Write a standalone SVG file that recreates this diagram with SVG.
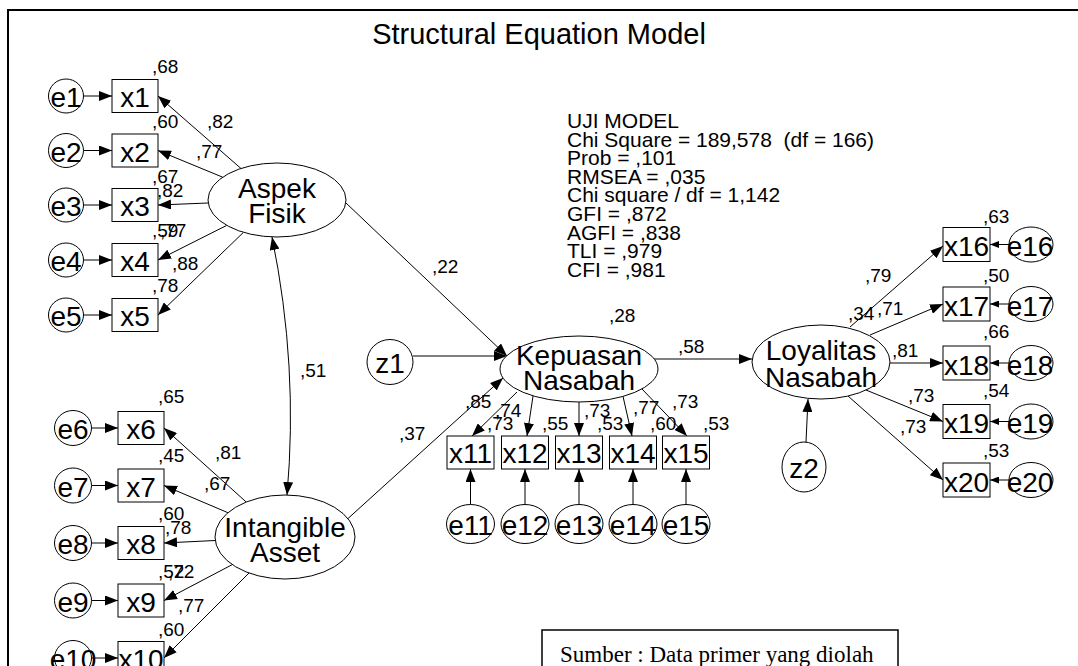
<svg xmlns="http://www.w3.org/2000/svg" width="1078" height="666" viewBox="0 0 1078 666">
<defs>
<style>
.n{fill:#fff;stroke:#000;stroke-width:1}
.t{font-family:"Liberation Sans",Arial,sans-serif;font-size:28px;text-anchor:middle;fill:#000}
.l{font-family:"Liberation Sans",Arial,sans-serif;font-size:19px;fill:#000}
.u{font-family:"Liberation Sans",Arial,sans-serif;font-size:21px;fill:#000}
#conn line,#conn path{stroke:#000;stroke-width:1;fill:none;marker-end:url(#ah)}
#conn .s{marker-end:url(#as)}
</style>
<marker id="ah" viewBox="0 0 13 10" refX="13" refY="5" markerWidth="13" markerHeight="10" markerUnits="userSpaceOnUse" orient="auto-start-reverse"><path d="M0,0 L13,5 L0,10 z" fill="#000"/></marker>
<marker id="as" viewBox="0 0 9 7" refX="9" refY="3.5" markerWidth="9" markerHeight="7" markerUnits="userSpaceOnUse" orient="auto"><path d="M0,0 L9,3.5 L0,7 z" fill="#000"/></marker>
</defs>
<rect width="1078" height="666" fill="#fff"/>
<path d="M8,666 V10 H1078" stroke="#000" stroke-width="2" fill="none"/>
<text class="t" x="539" y="44" style="font-size:29px">Structural Equation Model</text>

<g id="conn">
<line x1="83.5" y1="96" x2="112" y2="96"/>
<line x1="83.5" y1="150.5" x2="112" y2="150.5"/>
<line x1="83.5" y1="205" x2="112" y2="205"/>
<line x1="83.5" y1="260" x2="112" y2="260"/>
<line x1="83.5" y1="315" x2="112" y2="315"/>
<line x1="241" y1="168.5" x2="158" y2="96"/>
<line x1="222.7" y1="177.2" x2="158" y2="150.5"/>
<line x1="208" y1="203" x2="158" y2="205"/>
<line x1="226.7" y1="225.4" x2="158" y2="260"/>
<line x1="243.5" y1="232.3" x2="158" y2="315"/>
<line x1="91.5" y1="428" x2="118" y2="428"/>
<line x1="91.5" y1="485.5" x2="118" y2="485.5"/>
<line x1="91.5" y1="543" x2="118" y2="543"/>
<line x1="91.5" y1="600.5" x2="118" y2="600.5"/>
<line x1="91.5" y1="658" x2="118" y2="658"/>
<line x1="246.2" y1="502" x2="164" y2="428"/>
<line x1="227.9" y1="512.7" x2="164" y2="485.5"/>
<line x1="215.1" y1="540.5" x2="164" y2="543"/>
<line x1="232.3" y1="564.6" x2="164" y2="600.5"/>
<line x1="249" y1="573" x2="164" y2="658"/>
<path d="M272,237 Q298.5,366 287,495" style="marker-start:url(#ah)"/>
<line x1="346" y1="203" x2="507" y2="356"/>
<line x1="348" y1="518.5" x2="503" y2="378"/>
<line x1="413" y1="356" x2="507" y2="356"/>
<line x1="654" y1="359" x2="752" y2="359"/>
<line x1="806" y1="442" x2="808" y2="399"/>
<line x1="517" y1="392" x2="472" y2="436"/>
<line x1="533" y1="396" x2="527" y2="436"/>
<line x1="579" y1="402" x2="579" y2="436"/>
<line x1="623" y1="396.4" x2="632" y2="436"/>
<line x1="642" y1="389" x2="687" y2="436"/>
<line x1="470.5" y1="504.5" x2="470.5" y2="469"/>
<line x1="525" y1="504.5" x2="525" y2="469"/>
<line x1="579" y1="504.5" x2="579" y2="469"/>
<line x1="633" y1="504.5" x2="633" y2="469"/>
<line x1="686" y1="504.5" x2="686" y2="469"/>
<line x1="850" y1="327" x2="943" y2="246"/>
<line x1="870" y1="335" x2="943" y2="304"/>
<line x1="890" y1="363" x2="943" y2="363"/>
<line x1="866" y1="390" x2="943" y2="421.5"/>
<line x1="848" y1="396" x2="943" y2="480"/>
<line class="s" x1="1009" y1="244.5" x2="990" y2="244.5"/>
<line class="s" x1="1009" y1="304" x2="990" y2="304"/>
<line class="s" x1="1009" y1="363" x2="990" y2="363"/>
<line class="s" x1="1009" y1="421.5" x2="990" y2="421.5"/>
<line class="s" x1="1009" y1="480" x2="990" y2="480"/>
</g>

<g id="aspek"><ellipse class="n" cx="277" cy="200" rx="69" ry="37"/><text class="t" x="277" y="198">Aspek</text><text class="t" x="277" y="223">Fisik</text></g>
<g id="intangible"><ellipse class="n" cx="285" cy="537" rx="70" ry="42"/><text class="t" x="285" y="537">Intangible</text><text class="t" x="285" y="562">Asset</text></g>
<g id="kepuasan"><ellipse class="n" cx="579" cy="369" rx="79" ry="33"/><text class="t" x="579" y="365">Kepuasan</text><text class="t" x="579" y="390">Nasabah</text></g>
<g id="loyalitas"><ellipse class="n" cx="821" cy="362" rx="69" ry="37"/><text class="t" x="821" y="360">Loyalitas</text><text class="t" x="821" y="387">Nasabah</text></g>
<g id="z1"><ellipse class="n" cx="390" cy="362" rx="23" ry="22.5"/><text class="t" x="390" y="373">z1</text></g>
<g id="z2"><ellipse class="n" cx="804" cy="467" rx="22" ry="25"/><text class="t" x="804" y="478">z2</text></g>

<g id="e1"><ellipse class="n" cx="66" cy="96" rx="17.5" ry="17"/><text class="t" x="66" y="107">e1</text></g>
<g id="x1"><rect class="n" x="112" y="79.5" width="46" height="33"/><text class="t" x="135" y="107">x1</text></g>
<g id="e2"><ellipse class="n" cx="66" cy="150.5" rx="17.5" ry="17"/><text class="t" x="66" y="161.5">e2</text></g>
<g id="x2"><rect class="n" x="112" y="134" width="46" height="33"/><text class="t" x="135" y="161.5">x2</text></g>
<g id="e3"><ellipse class="n" cx="66" cy="205" rx="17.5" ry="17"/><text class="t" x="66" y="216">e3</text></g>
<g id="x3"><rect class="n" x="112" y="188.5" width="46" height="33"/><text class="t" x="135" y="216">x3</text></g>
<g id="e4"><ellipse class="n" cx="66" cy="260" rx="17.5" ry="17"/><text class="t" x="66" y="271">e4</text></g>
<g id="x4"><rect class="n" x="112" y="243.5" width="46" height="33"/><text class="t" x="135" y="271">x4</text></g>
<g id="e5"><ellipse class="n" cx="66" cy="315" rx="17.5" ry="17"/><text class="t" x="66" y="326">e5</text></g>
<g id="x5"><rect class="n" x="112" y="298.5" width="46" height="33"/><text class="t" x="135" y="326">x5</text></g>

<g id="e6"><ellipse class="n" cx="73" cy="428" rx="18.5" ry="17.5"/><text class="t" x="73" y="439">e6</text></g>
<g id="x6"><rect class="n" x="118" y="411.5" width="46" height="33"/><text class="t" x="141" y="439">x6</text></g>
<g id="e7"><ellipse class="n" cx="73" cy="485.5" rx="18.5" ry="17.5"/><text class="t" x="73" y="496.5">e7</text></g>
<g id="x7"><rect class="n" x="118" y="469" width="46" height="33"/><text class="t" x="141" y="496.5">x7</text></g>
<g id="e8"><ellipse class="n" cx="73" cy="543" rx="18.5" ry="17.5"/><text class="t" x="73" y="554">e8</text></g>
<g id="x8"><rect class="n" x="118" y="526.5" width="46" height="33"/><text class="t" x="141" y="554">x8</text></g>
<g id="e9"><ellipse class="n" cx="73" cy="600.5" rx="18.5" ry="17.5"/><text class="t" x="73" y="611.5">e9</text></g>
<g id="x9"><rect class="n" x="118" y="584" width="46" height="33"/><text class="t" x="141" y="611.5">x9</text></g>
<g id="e10"><ellipse class="n" cx="73" cy="658" rx="18.5" ry="17.5"/><text class="t" x="73" y="669">e10</text></g>
<g id="x10"><rect class="n" x="118" y="641.5" width="46" height="33"/><text class="t" x="141" y="669">x10</text></g>

<g id="x11"><rect class="n" x="447" y="436" width="47" height="33"/><text class="t" x="470.5" y="463">x11</text></g>
<g id="x12"><rect class="n" x="501.5" y="436" width="47" height="33"/><text class="t" x="525" y="463">x12</text></g>
<g id="x13"><rect class="n" x="555.5" y="436" width="47" height="33"/><text class="t" x="579" y="463">x13</text></g>
<g id="x14"><rect class="n" x="609.5" y="436" width="47" height="33"/><text class="t" x="633" y="463">x14</text></g>
<g id="x15"><rect class="n" x="662.5" y="436" width="47" height="33"/><text class="t" x="686" y="463">x15</text></g>
<g id="e11"><ellipse class="n" cx="470.5" cy="524" rx="24" ry="19.5"/><text class="t" x="470.5" y="535">e11</text></g>
<g id="e12"><ellipse class="n" cx="525" cy="524" rx="24" ry="19.5"/><text class="t" x="525" y="535">e12</text></g>
<g id="e13"><ellipse class="n" cx="579" cy="524" rx="24" ry="19.5"/><text class="t" x="579" y="535">e13</text></g>
<g id="e14"><ellipse class="n" cx="633" cy="524" rx="24" ry="19.5"/><text class="t" x="633" y="535">e14</text></g>
<g id="e15"><ellipse class="n" cx="686" cy="524" rx="24" ry="19.5"/><text class="t" x="686" y="535">e15</text></g>

<g id="x16"><rect class="n" x="943" y="227.5" width="47" height="34"/><text class="t" x="966.5" y="256">x16</text></g>
<g id="x17"><rect class="n" x="943" y="287" width="47" height="34"/><text class="t" x="966.5" y="315.5">x17</text></g>
<g id="x18"><rect class="n" x="943" y="346" width="47" height="34"/><text class="t" x="966.5" y="374.5">x18</text></g>
<g id="x19"><rect class="n" x="943" y="404.5" width="47" height="34"/><text class="t" x="966.5" y="433">x19</text></g>
<g id="x20"><rect class="n" x="943" y="463" width="47" height="34"/><text class="t" x="966.5" y="491.5">x20</text></g>
<g id="e16"><ellipse class="n" cx="1031" cy="244.5" rx="22" ry="17.5"/><text class="t" x="1030" y="256">e16</text></g>
<g id="e17"><ellipse class="n" cx="1031" cy="304" rx="22" ry="17.5"/><text class="t" x="1030" y="315.5">e17</text></g>
<g id="e18"><ellipse class="n" cx="1031" cy="363" rx="22" ry="17.5"/><text class="t" x="1030" y="374.5">e18</text></g>
<g id="e19"><ellipse class="n" cx="1031" cy="421.5" rx="22" ry="17.5"/><text class="t" x="1030" y="433">e19</text></g>
<g id="e20"><ellipse class="n" cx="1031" cy="480" rx="22" ry="17.5"/><text class="t" x="1030" y="491.5">e20</text></g>

<g id="labels" class="l">
<text x="152" y="73">,68</text>
<text x="152" y="128">,60</text>
<text x="207" y="128">,82</text>
<text x="196" y="158">,77</text>
<text x="152" y="183">,67</text>
<text x="157" y="197">,82</text>
<text x="152" y="237">,59</text>
<text x="160" y="237">,77</text>
<text x="172" y="270">,88</text>
<text x="152" y="292">,78</text>
<text x="158" y="403">,65</text>
<text x="215" y="459">,81</text>
<text x="158" y="462">,45</text>
<text x="204" y="490">,67</text>
<text x="158" y="520">,60</text>
<text x="165" y="534">,78</text>
<text x="158" y="578">,52</text>
<text x="168" y="578">,72</text>
<text x="178" y="612">,77</text>
<text x="158" y="636">,60</text>
<text x="300" y="377">,51</text>
<text x="432" y="273">,22</text>
<text x="399" y="440">,37</text>
<text x="609" y="322">,28</text>
<text x="678" y="353">,58</text>
<text x="465" y="408">,85</text>
<text x="495" y="417">,74</text>
<text x="487" y="430">,73</text>
<text x="542" y="430">,55</text>
<text x="584" y="417">,73</text>
<text x="597" y="430">,53</text>
<text x="633" y="414">,77</text>
<text x="672" y="408">,73</text>
<text x="650" y="430">,60</text>
<text x="703" y="430">,53</text>
<text x="983" y="223">,63</text>
<text x="983" y="282">,50</text>
<text x="983" y="338">,66</text>
<text x="983" y="397">,54</text>
<text x="983" y="457">,53</text>
<text x="865" y="282">,79</text>
<text x="848" y="320">,34</text>
<text x="877" y="315">,71</text>
<text x="892" y="357">,81</text>
<text x="908" y="402">,73</text>
<text x="900" y="433">,73</text>
</g>

<g id="fit" class="u">
<text x="567" y="128">UJI MODEL</text>
<text x="567" y="146.6" xml:space="preserve">Chi Square = 189,578  (df = 166)</text>
<text x="567" y="165.2">Prob = ,101</text>
<text x="567" y="183.8">RMSEA = ,035</text>
<text x="567" y="202.4">Chi square / df = 1,142</text>
<text x="567" y="221">GFI = ,872</text>
<text x="567" y="239.6">AGFI = ,838</text>
<text x="567" y="258.2">TLI = ,979</text>
<text x="567" y="276.8">CFI = ,981</text>
</g>

<g id="sumber">
<rect x="542" y="630" width="356" height="50" fill="#fff" stroke="#000" stroke-width="1.5"/>
<text x="560" y="662" style="font-family:'Liberation Serif','Times New Roman',serif;font-size:23px">Sumber : Data primer yang diolah</text>
</g>
</svg>
